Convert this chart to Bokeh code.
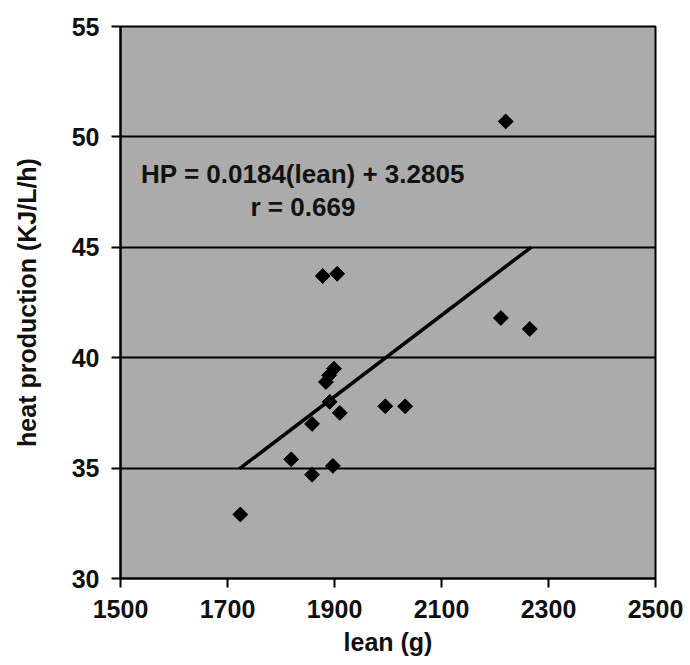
from bokeh.plotting import figure
from bokeh.models import FixedTicker, Range1d
from bokeh.core.properties import value
from bokeh.embed import file_html
from bokeh.resources import INLINE
import numpy as np

# data
lean = [1724, 1819, 1858, 1858, 1878, 1884, 1890, 1891, 1897, 1899, 1905, 1910, 1995, 2032, 2211, 2220, 2265]
hp = [32.9, 35.4, 34.7, 37.0, 43.7, 38.9, 39.2, 38.0, 35.1, 39.5, 43.8, 37.5, 37.8, 37.8, 41.8, 50.7, 41.3]
fit_lean = [1722, 2268]
slope = 0.0184
intercept = 3.2805
x_ticks = [1500, 1700, 1900, 2100, 2300, 2500]
y_ticks = [30, 35, 40, 45, 50, 55]
eq_text = ["HP = 0.0184(lean) + 3.2805", "r = 0.669"]
eq_x = [1841, 1841]
eq_y = [48.33, 46.82]

FONT = "Liberation Sans"

p = figure(width=690, height=665, output_backend="svg", toolbar_location=None,
           x_range=Range1d(1500, 2500), y_range=Range1d(30, 55),
           min_border_left=120, min_border_top=26, min_border_right=35, min_border_bottom=87,
           background_fill_color="#ababab", border_fill_color="white")

p.outline_line_color = "black"
p.outline_line_width = 2

p.xgrid.grid_line_color = None
p.ygrid.grid_line_color = "black"
p.ygrid.grid_line_width = 2
p.ygrid.ticker = FixedTicker(ticks=y_ticks)

for ax in (p.xaxis[0], p.yaxis[0]):
    ax.axis_line_color = "black"
    ax.axis_line_width = 2
    ax.major_tick_line_color = "black"
    ax.major_tick_line_width = 2
    ax.major_tick_out = 9
    ax.major_tick_in = 0
    ax.minor_tick_line_color = None
    ax.major_label_text_font = FONT
    ax.major_label_text_font_style = "bold"
    ax.major_label_text_font_size = "25px"
    ax.major_label_text_color = "#111111"
    ax.major_label_standoff = 12
    ax.axis_label_text_font = FONT
    ax.axis_label_text_font_style = "bold"
    ax.axis_label_text_font_size = "25px"
    ax.axis_label_text_color = "#111111"

p.xaxis.ticker = FixedTicker(ticks=x_ticks)
p.yaxis.ticker = FixedTicker(ticks=y_ticks)
p.xaxis.axis_label = "lean (g)"
p.yaxis.axis_label = "heat production (KJ/L/h)"
p.xaxis.axis_label_standoff = 7
p.yaxis.axis_label_standoff = 28

fit_hp = [slope * v + intercept for v in fit_lean]
p.line(fit_lean, fit_hp, line_color="black", line_width=3.5)

p.scatter(lean, hp, marker="square", size=10.5, angle=np.pi / 4,
          fill_color="black", line_color="black")

p.text(eq_x, eq_y, text=eq_text, text_font=value(FONT), text_font_style="bold",
       text_font_size="26px", text_align="center", text_baseline="alphabetic",
       text_color="#111111")

open("out.html", "w").write(file_html(p, INLINE))
